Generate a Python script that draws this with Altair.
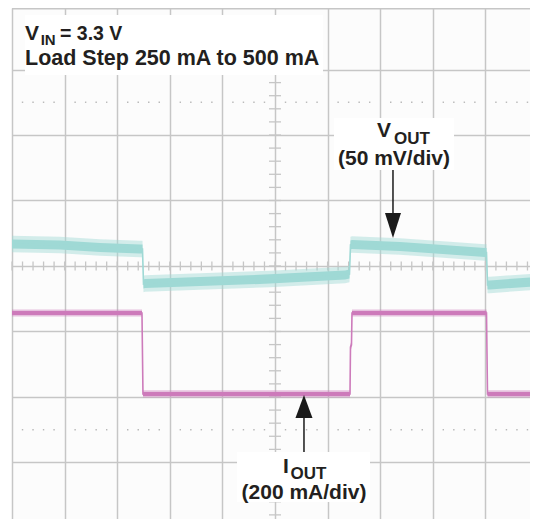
import altair as alt
import pandas as pd

# ---- scope screen (units: divisions; time 0..10, amplitude from centre) ----
X_DOMAIN = [0, 9.848]
Y_DOMAIN = [-3.863, 3.939]
grid_x = list(range(0, 10))
grid_y = list(range(-3, 4))

# ---- traces ----
vout_t = [0.0, 0.913, 1.673, 2.433, 2.481, 2.500, 2.529, 3.574, 4.905, 6.331,
          6.416, 6.435, 6.464, 7.376, 8.327, 8.992, 9.021, 9.040, 9.087, 10.0]
vout_v = [0.336, 0.321, 0.282, 0.260, 0.260, -0.275, -0.267, -0.237, -0.198, -0.137,
          -0.122, 0.321, 0.328, 0.298, 0.244, 0.206, 0.206, -0.290, -0.290, -0.237]

iout_t = [0.0, 2.471, 2.490, 6.426, 6.435, 6.454, 6.464, 9.021, 9.040, 10.0]
iout_v = [-0.718, -0.718, -1.954, -1.954, -1.237, -1.206, -0.718, -0.718, -1.954, -1.954]

# ---- annotation text ----
title_main = "V"
title_sub = "IN"
title_rest = "= 3.3 V"
title_line2 = "Load Step 250 mA to 500 mA"
vout_main, vout_sub, vout_scale = "V", "OUT", "(50 mV/div)"
iout_main, iout_sub, iout_scale = "I", "OUT", "(200 mA/div)"

CYAN = "#9fd9d5"
MAGENTA = "#cd7bbb"
GRID = "#c6c6c6"
INK = "#231f20"
FONT = "Liberation Sans"

xs = alt.Scale(domain=X_DOMAIN, nice=False, zero=False, clamp=False)
ys = alt.Scale(domain=Y_DOMAIN, nice=False, zero=False)
xax = alt.Axis(values=grid_x, grid=True, labels=False, ticks=False, domain=False,
               title="", gridColor=GRID, gridWidth=1.5)
yax = alt.Axis(values=grid_y, grid=True, labels=False, ticks=False, domain=False,
               title="", gridColor=GRID, gridWidth=1.5)


def band(t, v, half):
    return pd.DataFrame({"t": t, "v": v,
                         "hi": [a + half for a in v],
                         "lo": [a - half for a in v]})


def area(df, color, opacity):
    return alt.Chart(df).mark_area(color=color, opacity=opacity, clip=True).encode(
        x=alt.X("t:Q", scale=xs, axis=xax),
        y=alt.Y("hi:Q", scale=ys, axis=yax),
        y2="lo:Q")


def trace_line(df, color, w):
    return alt.Chart(df).mark_line(color=color, strokeWidth=w, clip=True).encode(
        x=alt.X("t:Q", scale=xs), y=alt.Y("v:Q", scale=ys))


# graticule
top_border = alt.Chart(pd.DataFrame({"y": [Y_DOMAIN[1] - 0.01]})).mark_rule(
    color=GRID, strokeWidth=1.5).encode(y=alt.Y("y:Q", scale=ys, axis=yax))

hticks = pd.DataFrame({"t": [k / 5 for k in range(50)]})
hticks_l = alt.Chart(hticks).mark_rule(color=GRID, strokeWidth=1.3).encode(
    x=alt.X("t:Q", scale=xs, axis=xax), y=alt.datum(-0.069), y2=alt.datum(0.069))

vticks = pd.DataFrame({"v": [k / 5 for k in range(-19, 20)]})
vticks_l = alt.Chart(vticks).mark_rule(color=GRID, strokeWidth=1.3).encode(
    y=alt.Y("v:Q", scale=ys, axis=yax), x=alt.datum(4.886), x2=alt.datum(5.114))

dots = pd.DataFrame({"t": [k / 5 for k in range(1, 50) if k % 5] * 2,
                     "v": [2.5] * 40 + [-2.5] * 40})
dots_l = alt.Chart(dots).mark_square(color="#b8b8b8", size=2, opacity=1, clip=True).encode(
    x=alt.X("t:Q", scale=xs), y=alt.Y("v:Q", scale=ys))

vb = band(vout_t, vout_v, 0.125)
vc = band(vout_t, vout_v, 0.07)
ib = band(iout_t, iout_v, 0.055)
ic = band(iout_t, iout_v, 0.03)

layers = [top_border, hticks_l, vticks_l, dots_l,
          area(vb, CYAN, 0.45), area(vc, CYAN, 1.0), trace_line(vb, CYAN, 1.6),
          area(ib, MAGENTA, 0.45), area(ic, MAGENTA, 1.0), trace_line(ib, MAGENTA, 1.6)]


def box(x1, x2, y1, y2):
    return alt.Chart(pd.DataFrame({"a": [0]})).mark_rect(fill="white").encode(
        x=alt.datum(x1), x2=alt.datum(x2), y=alt.datum(y1), y2=alt.datum(y2))


def label(txt, x, y, size, align="left"):
    return alt.Chart(pd.DataFrame({"a": [0]})).mark_text(
        text=txt, align=align, baseline="alphabetic", font=FONT, fontSize=size,
        fontWeight="bold", color=INK).encode(x=alt.datum(x), y=alt.datum(y))


def shaft(x, y1, y2):
    return alt.Chart(pd.DataFrame({"a": [0]})).mark_rule(color="#1a1a1a", strokeWidth=1.5).encode(
        x=alt.datum(x), y=alt.datum(y1), y2=alt.datum(y2))


def head(x, y, path, size):
    return alt.Chart(pd.DataFrame({"a": [0]})).mark_point(
        shape=path, size=size, filled=True, color="#1a1a1a", opacity=1).encode(
        x=alt.datum(x), y=alt.datum(y))


layers += [
    box(0.247, 5.913, 3.832, 2.916),
    label(title_main, 0.247, 3.451, 21),
    label(title_sub, 0.545, 3.374, 15),
    label(title_rest, 0.913, 3.451, 19.5),
    label(title_line2, 0.247, 3.069, 21.5),
    box(6.122, 8.403, 2.260, 1.466),
    label(vout_main, 6.939, 1.969, 21),
    label(vout_sub, 7.262, 1.860, 17),
    label(vout_scale, 7.262, 1.542, 21, "center"),
    shaft(7.243, 1.466, 0.70),
    head(7.243, 0.618, "M-0.64,-1L0.64,-1L0,1Z", 625),
    box(4.278, 6.806, -2.840, -3.603),
    label(iout_main, 5.152, -3.160, 21),
    label(iout_sub, 5.295, -3.255, 17),
    label(iout_scale, 5.551, -3.557, 21, "center"),
    shaft(5.551, -2.840, -2.20),
    head(5.551, -2.145, "M-0.74,1L0.74,1L0,-1Z", 529),
]

chart = alt.layer(*layers).properties(
    width=518, height=511,
    autosize=alt.AutoSizeParams(type="none"),
    padding={"left": 4, "top": 0, "right": 0, "bottom": 0},
    background="white",
).configure_view(fill="#fcfcfc", strokeOpacity=0)

chart.save("out.html", embed_options={"renderer": "svg", "actions": False})
